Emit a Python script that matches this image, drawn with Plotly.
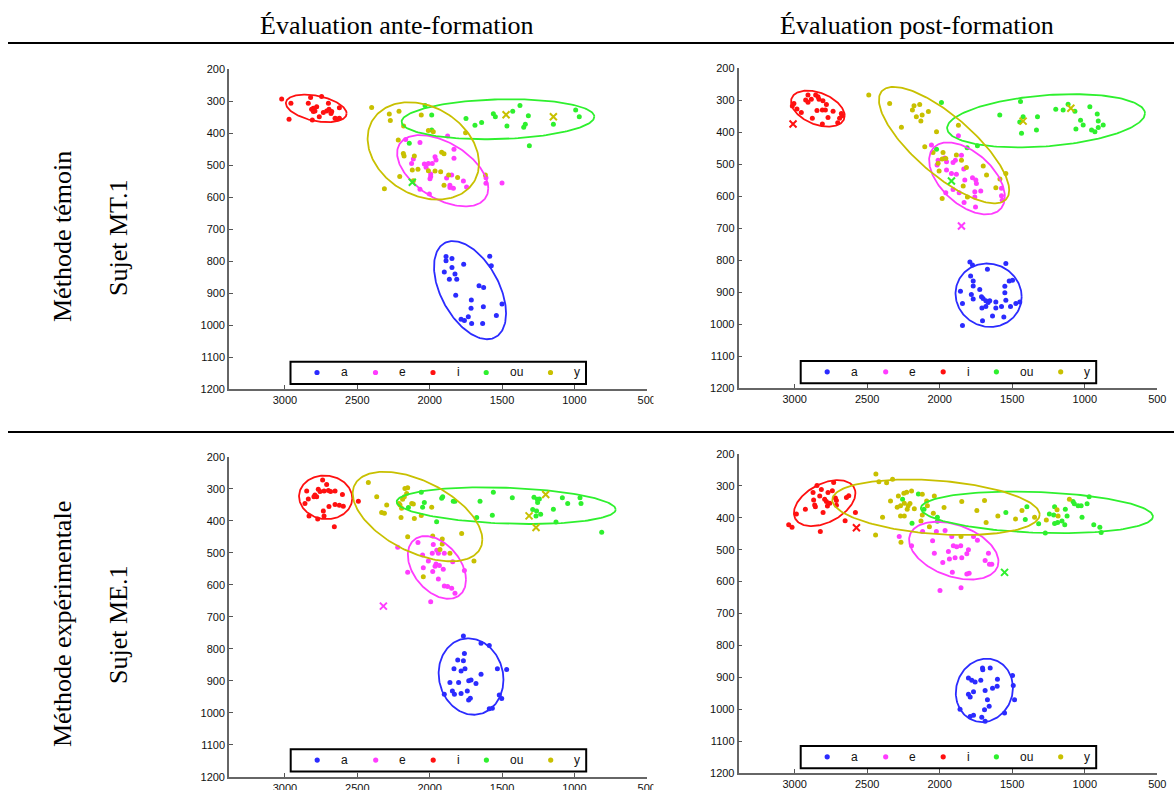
import numpy as np
import plotly.graph_objects as go

VOWELS = ["a", "e", "i", "ou", "y"]
COLORS = ["#2b2bff", "#ff3cff", "#ff1010", "#2ef02e", "#c8c000"]

COL_TITLES = ["Évaluation ante-formation", "Évaluation post-formation"]
ROW_TITLES = ["Méthode témoin", "Méthode expérimentale"]
ROW_SUBJECTS = ["Sujet MT.1", "Sujet ME.1"]

X_TICKS = [3000, 2500, 2000, 1500, 1000, 500]
Y_TICKS = [200, 300, 400, 500, 600, 700, 800, 900, 1000, 1100, 1200]

# ---------- Panel 1 : Méthode témoin, ante-formation (F2 = x, F1 = y) ----------
P1_A_F2 = [1887, 1887, 1846, 1846, 1899, 1864, 1825, 1813, 1765, 1820, 1659, 1627, 1712, 1714, 1629, 1585, 1574, 1500, 1539, 1783, 1760, 1733, 1710, 1634]
P1_A_F1 = [786, 799, 792, 820, 834, 857, 841, 857, 810, 907, 877, 883, 922, 948, 943, 785, 815, 934, 970, 982, 986, 974, 995, 995]
P1_E_F2 = [2166, 2067, 1876, 1832, 1832, 2125, 2113, 2037, 2025, 2009, 1982, 1963, 1956, 1993, 1998, 2067, 2002, 1883, 1848, 1860, 1836, 1860, 1767, 1745, 1611, 1611, 1500, 1993]
P1_E_F1 = [420, 430, 409, 451, 479, 495, 481, 497, 507, 495, 495, 474, 484, 536, 543, 576, 591, 541, 531, 570, 573, 563, 550, 569, 540, 557, 556, 528]
P1_I_F2 = [3023, 2972, 2959, 2839, 2823, 2811, 2804, 2793, 2747, 2735, 2700, 2696, 2682, 2763, 2654, 2643, 2624, 2624, 2781, 2816, 2712, 2677, 2804]
P1_I_F1 = [294, 357, 307, 307, 289, 359, 323, 331, 286, 336, 307, 326, 339, 349, 354, 356, 321, 354, 318, 326, 331, 333, 333]
P1_OU_F2 = [2032, 1986, 1986, 2141, 1749, 1687, 1641, 1560, 1546, 1466, 1426, 1376, 1350, 1339, 1318, 1311, 1145, 991, 966]
P1_OU_F1 = [314, 344, 391, 432, 355, 376, 367, 340, 349, 378, 332, 314, 382, 373, 346, 440, 373, 328, 349]
P1_Y_F2 = [2401, 2279, 2272, 2212, 2180, 2217, 2182, 2177, 2106, 2120, 2081, 2058, 2009, 1975, 2207, 2113, 2313, 2009, 1963, 1924, 1917, 1901, 1869, 1807, 1752, 1615, 1901]
P1_Y_F1 = [320, 341, 361, 332, 378, 422, 464, 472, 472, 516, 513, 344, 392, 396, 536, 549, 574, 518, 519, 521, 460, 465, 531, 539, 399, 531, 563]
P1_X_F2 = [1472, 1145, 2120]
P1_X_F1 = [343, 349, 554]
P1_X_VOWEL = [4, 4, 3]
# ellipses (order a, e, i, ou, y): centre, vector to the x-extreme point, half vertical chord
P1_ELL_F2 = [1721, 1910, 2784, 1528, 2044]
P1_ELL_F1 = [891, 518, 323, 357, 456]
P1_ELL_U2 = [-249, -315, -210, -666, -385]
P1_ELL_U1 = [73, 55, 16, -8, 39]
P1_ELL_H = [135, 97, 40, 62, 147]

# ---------- Panel 2 : Méthode témoin, post-formation ----------
P2_A_F2 = [1792, 1774, 1671, 1544, 1787, 1769, 1769, 1857, 1843, 1782, 1769, 1724, 1712, 1701, 1682, 1666, 1655, 1709, 1682, 1613, 1613, 1574, 1551, 1551, 1544, 1521, 1498, 1512, 1475, 1448, 1636, 1705, 1558, 1843]
P2_A_F1 = [806, 816, 829, 811, 850, 866, 881, 898, 936, 908, 922, 892, 915, 920, 927, 933, 927, 950, 945, 950, 931, 945, 902, 882, 926, 866, 863, 945, 936, 931, 975, 990, 978, 1005]
P2_E_F2 = [2057, 1871, 2011, 1965, 1953, 2018, 1908, 1892, 1850, 1953, 1919, 1885, 1834, 1827, 1774, 1751, 1747, 1717, 1758, 1758, 1753, 1832, 1866, 1908, 1958, 1574, 1574, 1569]
P2_E_F1 = [441, 412, 488, 481, 493, 503, 495, 488, 473, 519, 530, 532, 516, 550, 543, 550, 561, 584, 587, 603, 634, 620, 590, 580, 590, 576, 599, 613]
P2_I_F2 = [3016, 3005, 2984, 2954, 2924, 2908, 2908, 2885, 2855, 2846, 2832, 2809, 2805, 2788, 2781, 2809, 2770, 2735, 2878, 2703, 2690, 2678, 2673, 2839]
P2_I_F1 = [319, 311, 328, 339, 300, 284, 307, 298, 284, 333, 298, 331, 302, 331, 314, 375, 355, 335, 357, 371, 357, 342, 349, 290]
P2_OU_F2 = [1988, 2022, 1811, 1740, 1586, 1443, 1425, 1448, 1436, 1326, 1333, 1200, 1149, 1115, 1068, 1029, 1011, 1061, 965, 914, 907, 953, 930, 907, 873]
P2_OU_F1 = [308, 454, 449, 443, 347, 305, 352, 369, 404, 352, 394, 329, 331, 313, 335, 363, 378, 391, 321, 344, 366, 394, 399, 386, 378]
P2_Y_F2 = [2489, 2345, 2264, 2188, 2177, 2138, 2161, 2121, 2130, 2078, 2022, 2103, 2046, 2011, 2004, 1983, 1977, 1958, 1885, 1871, 1850, 1838, 1816, 1809, 1700, 1677, 1613, 1585, 1544, 1983]
P2_Y_F1 = [284, 311, 385, 331, 318, 314, 352, 347, 366, 336, 399, 446, 464, 498, 522, 484, 464, 483, 472, 379, 488, 569, 511, 603, 506, 534, 574, 547, 530, 608]
P2_X_F2 = [3011, 1425, 1096, 1919, 1850]
P2_X_F1 = [375, 366, 326, 553, 694]
P2_X_VOWEL = [2, 4, 4, 3, 1]
P2_ELL_F2 = [1663, 1812, 2840, 1267, 1970]
P2_ELL_F1 = [910, 545, 327, 365, 441]
P2_ELL_U2 = [-228, -261, -185, -682, -449]
P2_ELL_U1 = [5, 57, 22, -23, 141]
P2_ELL_H = [99, 97, 52, 80, 115]

# ---------- Panel 3 : Méthode expérimentale, ante-formation ----------
P3_A_F2 = [1767, 1645, 1588, 1760, 1806, 1767, 1832, 1783, 1756, 1645, 1532, 1468, 1860, 1800, 1730, 1714, 1680, 1843, 1829, 1783, 1740, 1899, 1731, 1719, 1519, 1502, 1588, 1567]
P3_A_F1 = [760, 783, 790, 815, 835, 838, 863, 870, 863, 880, 863, 865, 906, 906, 900, 898, 909, 932, 942, 940, 932, 942, 960, 955, 945, 956, 988, 986]
P3_E_F2 = [2221, 2152, 2081, 2049, 2044, 2009, 1975, 1979, 1963, 1956, 1951, 1940, 1933, 1940, 1906, 1899, 1899, 1876, 1848, 1841, 1825, 1760, 1993, 1982]
P3_E_F1 = [483, 561, 468, 507, 547, 526, 474, 559, 542, 535, 492, 502, 540, 582, 552, 502, 604, 606, 611, 528, 627, 556, 653, 502]
P3_I_F2 = [2850, 2839, 2862, 2834, 2774, 2793, 2781, 2770, 2758, 2740, 2735, 2730, 2712, 2700, 2696, 2685, 2654, 2654, 2624, 2603, 2597, 2659, 2493, 2730, 2800]
P3_I_F1 = [307, 332, 346, 385, 395, 320, 325, 302, 309, 273, 370, 385, 287, 306, 356, 309, 307, 349, 352, 318, 355, 419, 339, 307, 325]
P3_OU_F2 = [2147, 2058, 2049, 2037, 1952, 1917, 1910, 1837, 1825, 1675, 1652, 1567, 1560, 1429, 1288, 1279, 1265, 1261, 1256, 1254, 1242, 1233, 1145, 1127, 1083, 1046, 961, 954, 811]
P3_OU_F1 = [359, 311, 358, 343, 403, 330, 325, 339, 339, 390, 339, 383, 311, 328, 365, 327, 385, 370, 333, 343, 332, 380, 364, 404, 328, 346, 328, 346, 436]
P3_Y_F2 = [2424, 2366, 2332, 2313, 2297, 2171, 2152, 2159, 2175, 2187, 2205, 2212, 2194, 2198, 2124, 2113, 2106, 2058, 1986, 2152, 1979, 1913, 1913, 1929, 1860, 1779, 1694, 2044]
P3_Y_F1 = [281, 325, 374, 377, 351, 299, 297, 315, 325, 333, 351, 346, 361, 390, 346, 348, 393, 384, 358, 450, 448, 457, 473, 490, 502, 440, 526, 575]
P3_X_F2 = [2320, 1313, 1265, 1198]
P3_X_F1 = [667, 385, 421, 318]
P3_X_VOWEL = [1, 4, 4, 4]
P3_ELL_F2 = [1714, 1950, 2719, 1471, 2084]
P3_ELL_F1 = [887, 546, 327, 353, 387]
P3_ELL_U2 = [-224, -201, -184, -757, -448]
P3_ELL_U1 = [10, 39, 3, 12, 72]
P3_ELL_H = [119, 90, 68, 56, 120]

# ---------- Panel 4 : Méthode expérimentale, post-formation ----------
P4_A_F2 = [1705, 1703, 1652, 1802, 1779, 1756, 1717, 1602, 1498, 1493, 1604, 1636, 1687, 1767, 1802, 1790, 1671, 1484, 1659, 1691, 1860, 1553, 1790, 1767, 1710, 1687]
P4_A_F1 = [871, 876, 871, 902, 909, 915, 909, 906, 894, 926, 928, 934, 941, 945, 953, 962, 970, 970, 991, 1002, 1000, 1012, 1023, 1019, 1025, 1038]
P4_E_F2 = [2279, 2194, 2118, 2049, 2037, 2023, 1963, 1979, 1940, 1933, 1917, 1906, 1894, 1883, 1855, 1848, 1813, 1802, 1767, 1740, 1913, 1813, 1797, 1687, 1664, 1657, 1641, 1998, 1853]
P4_E_F1 = [459, 488, 443, 472, 511, 443, 440, 540, 506, 529, 459, 488, 525, 491, 488, 525, 513, 500, 459, 470, 571, 576, 574, 534, 511, 546, 546, 628, 619]
P4_I_F2 = [3041, 3018, 2988, 2926, 2873, 2869, 2862, 2857, 2846, 2827, 2816, 2804, 2793, 2781, 2774, 2770, 2823, 2740, 2731, 2719, 2712, 2712, 2652, 2643, 2627, 2581, 2758]
P4_I_F1 = [422, 430, 388, 373, 321, 344, 360, 365, 299, 332, 311, 383, 342, 349, 363, 321, 443, 315, 289, 338, 346, 361, 409, 336, 331, 383, 354]
P4_OU_F2 = [2256, 2147, 2108, 2016, 2016, 2191, 1544, 1410, 1399, 1318, 1272, 1244, 1214, 1208, 1208, 1187, 1157, 1138, 1134, 1122, 1081, 1072, 1046, 1025, 1019, 984, 970, 938, 896, 887]
P4_OU_F1 = [342, 325, 373, 398, 411, 417, 383, 405, 365, 419, 448, 388, 391, 365, 418, 415, 410, 422, 373, 394, 349, 356, 362, 362, 398, 356, 334, 422, 430, 446]
P4_Y_F2 = [2440, 2419, 2366, 2325, 2339, 2394, 2442, 2267, 2285, 2247, 2228, 2194, 2120, 2037, 2293, 2270, 2244, 2217, 2205, 2224, 2270, 2244, 2175, 2120, 2129, 2090, 2085, 2071, 2044, 1970, 1848, 1744, 1691, 1680, 1853, 1599, 1477, 1433, 1346, 1265, 1191, 1184, 1106]
P4_Y_F1 = [263, 287, 290, 279, 347, 398, 454, 477, 332, 323, 320, 316, 326, 332, 367, 362, 354, 362, 355, 373, 394, 394, 372, 391, 410, 347, 362, 428, 386, 368, 349, 377, 346, 415, 459, 394, 404, 377, 398, 407, 375, 394, 342]
P4_X_F2 = [2574, 1553]
P4_X_F1 = [431, 571]
P4_X_VOWEL = [2, 3]
P4_ELL_F2 = [1692, 1903, 2793, 1330, 2026]
P4_ELL_F1 = [941, 503, 354, 383, 367]
P4_ELL_U2 = [-197, -308, -212, -800, -715]
P4_ELL_U1 = [-8, 34, -31, 13, 23]
P4_ELL_H = [99, 84, 65, 64, 84]

PANELS = [
    dict(points=[(P1_A_F2, P1_A_F1), (P1_E_F2, P1_E_F1), (P1_I_F2, P1_I_F1), (P1_OU_F2, P1_OU_F1), (P1_Y_F2, P1_Y_F1)],
         xs=(P1_X_F2, P1_X_F1, P1_X_VOWEL), ell=(P1_ELL_F2, P1_ELL_F1, P1_ELL_U2, P1_ELL_U1, P1_ELL_H)),
    dict(points=[(P2_A_F2, P2_A_F1), (P2_E_F2, P2_E_F1), (P2_I_F2, P2_I_F1), (P2_OU_F2, P2_OU_F1), (P2_Y_F2, P2_Y_F1)],
         xs=(P2_X_F2, P2_X_F1, P2_X_VOWEL), ell=(P2_ELL_F2, P2_ELL_F1, P2_ELL_U2, P2_ELL_U1, P2_ELL_H)),
    dict(points=[(P3_A_F2, P3_A_F1), (P3_E_F2, P3_E_F1), (P3_I_F2, P3_I_F1), (P3_OU_F2, P3_OU_F1), (P3_Y_F2, P3_Y_F1)],
         xs=(P3_X_F2, P3_X_F1, P3_X_VOWEL), ell=(P3_ELL_F2, P3_ELL_F1, P3_ELL_U2, P3_ELL_U1, P3_ELL_H)),
    dict(points=[(P4_A_F2, P4_A_F1), (P4_E_F2, P4_E_F1), (P4_I_F2, P4_I_F1), (P4_OU_F2, P4_OU_F1), (P4_Y_F2, P4_Y_F1)],
         xs=(P4_X_F2, P4_X_F1, P4_X_VOWEL), ell=(P4_ELL_F2, P4_ELL_F1, P4_ELL_U2, P4_ELL_U1, P4_ELL_H)),
]

# ---------------- layout geometry (screen pixels of the 1174x790 page) ----------------
W, H = 1174, 790
X_RANGE = [3387, 500]
Y_RANGE = [1200, 200]
PX_X = [(229, 646.7), (738.5, 1157.3), (229, 646.7), (738.5, 1157.3)]
PX_Y = [(69, 389), (68, 388), (456.7, 776.7), (454, 773)]
LEG_BOX = [(290.5, 361.7), (800.7, 361.0), (290.7, 749.3), (800.7, 746.0)]
LEG_W, LEG_H = 295.5, 22.3
LEG_MARK_DX = [26.5, 85.0, 142.5, 195.7, 260.0]
LEG_TEXT_DX = [53.6, 111.5, 167.8, 226.2, 286.7]


def px2paper_x(p):
    return p / W


def px2paper_y(p):
    return 1 - p / H


SANS = "Liberation Sans, Arial, sans-serif"
SERIF = "Liberation Serif, Times New Roman, serif"
TICK_FONT = dict(family=SANS, size=11, color="#111111")

fig = go.Figure()
t = np.linspace(0, 2 * np.pi, 181)

for k, panel in enumerate(PANELS):
    n = k + 1
    xa = "x" if n == 1 else f"x{n}"
    ya = "y" if n == 1 else f"y{n}"
    for v, (f2, f1) in enumerate(panel["points"]):
        fig.add_trace(go.Scatter(
            x=f2, y=f1, mode="markers", name=VOWELS[v], xaxis=xa, yaxis=ya,
            marker=dict(size=5, color=COLORS[v], line=dict(width=0)), showlegend=False,
            hoverinfo="skip"))
    cx, cy, u2, u1, hh = panel["ell"]
    for v in range(5):
        ex = cx[v] + u2[v] * np.cos(t)
        ey = cy[v] + u1[v] * np.cos(t) + hh[v] * np.sin(t)
        fig.add_trace(go.Scatter(
            x=ex, y=ey, mode="lines", xaxis=xa, yaxis=ya, showlegend=False,
            line=dict(color=COLORS[v], width=1.8), hoverinfo="skip"))
    xf2, xf1, xv = panel["xs"]
    for v in range(5):
        sel = [i for i, vv in enumerate(xv) if vv == v]
        if not sel:
            continue
        fig.add_trace(go.Scatter(
            x=[xf2[i] for i in sel], y=[xf1[i] for i in sel], mode="markers",
            xaxis=xa, yaxis=ya, showlegend=False,
            marker=dict(symbol="x-thin", size=7, line=dict(width=2, color=COLORS[v]), color=COLORS[v]),
            hoverinfo="skip"))

layout = dict(
    width=W, height=H, margin=dict(l=0, r=0, t=0, b=0, pad=0), autosize=False,
    paper_bgcolor="white", plot_bgcolor="white", showlegend=False,
)

for k in range(4):
    n = k + 1
    xkey = "xaxis" if n == 1 else f"xaxis{n}"
    ykey = "yaxis" if n == 1 else f"yaxis{n}"
    x0, x1 = PX_X[k]
    y0, y1 = PX_Y[k]
    layout[xkey] = dict(
        domain=[px2paper_x(x0), px2paper_x(x1)], range=X_RANGE, anchor="y" if n == 1 else f"y{n}",
        tickvals=X_TICKS, ticktext=[str(v) for v in X_TICKS], ticks="inside", ticklen=4,
        tickcolor="#555555", tickwidth=1.2, showline=True, linecolor="#666666", linewidth=1.6,
        showgrid=False, zeroline=False, tickfont=TICK_FONT, fixedrange=True, automargin=False)
    layout[ykey] = dict(
        domain=[px2paper_y(y1), px2paper_y(y0)], range=Y_RANGE, anchor="x" if n == 1 else f"x{n}",
        tickvals=Y_TICKS, ticks="inside", ticklen=4, tickcolor="#555555", tickwidth=1.2,
        showline=True, linecolor="#666666", linewidth=1.6, showgrid=False, zeroline=False,
        tickfont=TICK_FONT, fixedrange=True, automargin=False)

annotations = []
shapes = []

# column and row headings
for c, title in enumerate(COL_TITLES):
    annotations.append(dict(text=title, x=px2paper_x([397, 917][c]), y=px2paper_y(26),
                            xref="paper", yref="paper", showarrow=False, xanchor="center", yanchor="middle",
                            font=dict(family=SERIF, size=26, color="black")))
for r in range(2):
    cy_px = [237, 624][r]
    annotations.append(dict(text=ROW_TITLES[r], x=px2paper_x(62), y=px2paper_y(cy_px),
                            xref="paper", yref="paper", showarrow=False, textangle=-90,
                            xanchor="center", yanchor="middle",
                            font=dict(family=SERIF, size=26, color="black")))
    annotations.append(dict(text=ROW_SUBJECTS[r], x=px2paper_x(118), y=px2paper_y(cy_px + 1),
                            xref="paper", yref="paper", showarrow=False, textangle=-90,
                            xanchor="center", yanchor="middle",
                            font=dict(family=SERIF, size=26, color="black")))

# per-panel boxed legend (drawn as decoration)
for k in range(4):
    bx, by = LEG_BOX[k]
    shapes.append(dict(type="rect", xref="paper", yref="paper", layer="above",
                       x0=px2paper_x(bx), x1=px2paper_x(bx + LEG_W),
                       y0=px2paper_y(by + LEG_H), y1=px2paper_y(by),
                       fillcolor="white", line=dict(color="black", width=2)))
    for v in range(5):
        mx = px2paper_x(bx + LEG_MARK_DX[v])
        my = px2paper_y(by + 10.8)
        shapes.append(dict(type="circle", xref="paper", yref="paper", layer="above",
                           xsizemode="pixel", ysizemode="pixel", xanchor=mx, yanchor=my,
                           x0=-2.6, x1=2.6, y0=-2.6, y1=2.6,
                           fillcolor=COLORS[v], line=dict(width=0)))
        annotations.append(dict(text=VOWELS[v], x=px2paper_x(bx + LEG_TEXT_DX[v]), y=px2paper_y(by + 10.5),
                                xref="paper", yref="paper", showarrow=False,
                                xanchor="center", yanchor="middle",
                                font=dict(family=SANS, size=12, color="#111111")))

layout["annotations"] = annotations

for ypx in (43, 432):
    shapes.append(dict(type="line", xref="paper", yref="paper", x0=px2paper_x(8), x1=1,
                       y0=px2paper_y(ypx), y1=px2paper_y(ypx), line=dict(color="black", width=2)))
# the source image is cropped just right of the left-column panels
for (ya0, ya1) in ((391, 412), (779, 790)):
    shapes.append(dict(type="rect", xref="paper", yref="paper", layer="above",
                       x0=px2paper_x(653.5), x1=px2paper_x(690), y0=px2paper_y(ya1), y1=px2paper_y(ya0),
                       fillcolor="white", line=dict(width=0)))
layout["shapes"] = shapes

fig.update_layout(**layout)
fig.write_html("out.html", config=dict(displayModeBar=False),
               post_script="document.body.style.margin='0px';document.body.style.overflow='hidden';")
